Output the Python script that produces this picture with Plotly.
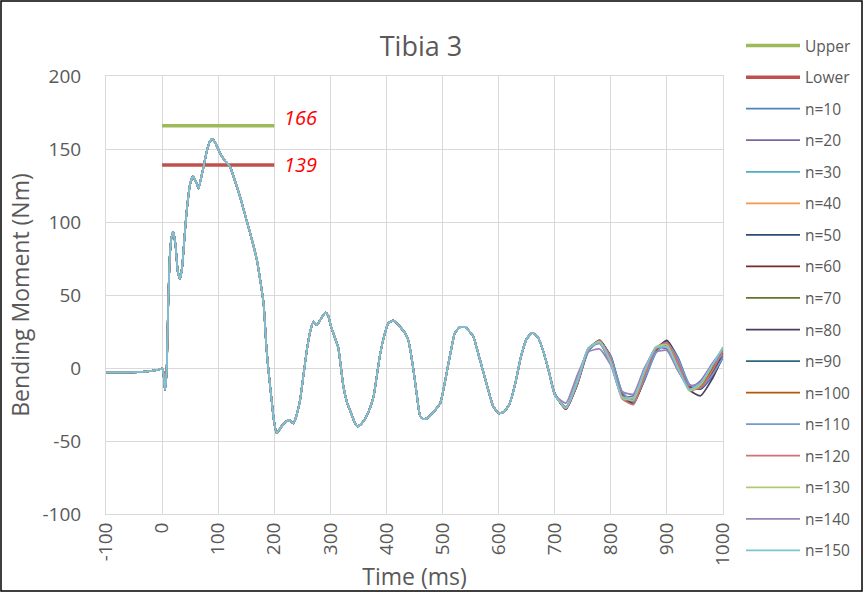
import plotly.graph_objects as go

# ---------------- data ----------------
# time axis (ms) shared by every n-series
time_shared = [-100, -60, -30, -10, 0, 2, 5, 8, 11, 14, 17, 20, 24, 28, 32, 36, 40, 44, 50, 55,
               60, 65, 70, 74, 80, 85, 90, 95, 100, 105, 112, 121, 130, 140, 150, 160, 169, 175,
               181, 186, 190, 195, 199, 204, 208, 213, 220, 227, 234, 240, 246, 252, 258, 264,
               270, 276, 282, 291, 296, 300, 306, 314, 318, 323, 330, 335, 342, 348, 353, 359,
               368, 377, 383, 389, 396, 403, 412, 420, 427, 433, 439, 444, 448, 454, 460, 466,
               472, 484, 496, 502, 508, 515, 522, 531, 540, 548, 555, 560, 570, 580, 590, 600,
               610, 620, 630, 640, 650, 660, 670, 680, 690]
# bending moment (Nm) where all n-series overlap
moment_shared = [-3, -3, -2.5, -1.5, -0.5, -2, -15, -3, 45, 78, 90, 93, 84, 66, 61, 70, 90, 108, 126, 131,
                 128, 123, 131, 138, 149, 155, 157, 154, 150, 146, 142, 138, 128, 116, 102, 88, 74, 60,
                 44, 14, -3, -21, -35, -44.5, -43, -40, -37, -35.6, -38, -32, -22, -5, 12, 25,
                 31.7, 29.5, 33, 38, 36, 30, 23, 14, 3, -12, -24, -29, -36, -40, -39, -36.5,
                 -30, -19.6, -5, 10, 22, 30.6, 32.4, 30, 27, 24, 19, 9, -1, -18, -33, -35,
                 -34.5, -30, -24, -14, -2, 12, 24, 28, 28, 25, 21.5, 15, 1, -13, -26, -31,
                 -30, -24, -10, 8, 20, 24, 21, 11, -3]

# later part where the series separate
time_late = [700, 720, 740, 760, 780, 800, 820, 840, 860, 880, 900, 920, 940, 960, 980, 1000]

n10 = [-17.4, -27.9, -11.7, 11.5, 18.4, 8.3, -16.4, -23.8, -8.5, 10.3, 17.9, 7.1, -11.4, -14.5, -6.3, 7.2]
n20 = [-18.3, -26.7, -8.4, 13.5, 16.8, 2.4, -19.5, -19.1, -0.6, 13.7, 13.1, -1.6, -14.0, -8.8, 2.5, 13.3]
n30 = [-17.7, -27.7, -10.9, 12.3, 18.2, 6.7, -17.7, -22.9, -6.3, 11.6, 17.0, 4.6, -12.7, -13.2, -3.6, 9.6]
n40 = [-17.8, -27.4, -10.3, 12.5, 17.9, 5.7, -19.5, -24.5, -5.0, 11.9, 15.9, 3.2, -12.8, -12.1, -2.2, 10.3]
n50 = [-17.6, -28.0, -11.4, 12.0, 18.6, 7.6, -17.4, -23.9, -7.6, 11.3, 18.0, 6.0, -12.5, -14.4, -5.2, 8.8]
n60 = [-17.8, -27.9, -10.8, 12.6, 18.5, 6.4, -18.4, -23.2, -5.8, 12.3, 17.3, 4.1, -13.6, -13.5, -3.1, 10.7]
n70 = [-18.1, -27.8, -10.2, 13.3, 18.6, 5.2, -19.8, -23.1, -4.2, 13.8, 17.1, 2.2, -15.1, -13.1, -1.1, 13.2]
n80 = [-17.8, -28.2, -11.4, 12.5, 19.1, 7.5, -18.5, -24.9, -7.4, 12.3, 19.0, 6.0, -15.0, -19.0, -8.0, 8.0]
n90 = [-18.2, -27.4, -9.6, 13.4, 17.9, 4.2, -19.7, -21.6, -2.9, 13.7, 15.5, 0.7, -14.7, -11.4, 0.3, 13.2]
n100 = [-17.9, -27.5, -10.2, 12.8, 18.1, 5.4, -18.7, -22.2, -4.6, 12.7, 16.2, 2.6, -13.7, -12.3, -1.7, 11.4]
n110 = [-17.4, -27.6, -11.4, 11.6, 18.1, 7.7, -16.3, -23.0, -7.7, 10.3, 17.1, 6.2, -11.2, -13.5, -5.3, 7.4]
n120 = [-17.9, -27.9, -10.6, 12.9, 18.7, 6.0, -21.0, -25.0, -5.4, 13.1, 17.6, 3.5, -14.4, -13.7, -2.5, 11.9]
n130 = [-18.3, -27.5, -9.4, 13.7, 18.1, 3.8, -20.4, -21.9, -2.4, 14.5, 15.8, 0.1, -15.6, -11.6, 1.0, 14.5]
n140 = [-18.5, -24.0, -5.0, 11.0, 13.0, 2.0, -16.0, -18.0, 0.0, 11.0, 12.0, -2.0, -12.0, -10.0, 2.0, 9.0]
n150 = [-18.3, -27.1, -8.9, 13.4, 17.3, 3.3, -19.7, -20.4, -1.7, 13.8, 14.4, -0.5, -14.7, -10.3, 1.5, 13.7]

series_names = ["n=10", "n=20", "n=30", "n=40", "n=50", "n=60", "n=70", "n=80",
                "n=90", "n=100", "n=110", "n=120", "n=130", "n=140", "n=150"]
series_late = [n10, n20, n30, n40, n50, n60, n70, n80, n90, n100, n110, n120, n130, n140, n150]
series_colors = ["#4F81BD", "#8064A2", "#4BACC6", "#F79646", "#2C4D75", "#772C2A", "#5F7530",
                 "#4D3B62", "#276A7C", "#B65708", "#729ACA", "#CD7371", "#AFC97A", "#9983B5",
                 "#7CC3D6"]

limit_time = [0, 200]
upper_value = 166
lower_value = 139

x_ticks = [-100, 0, 100, 200, 300, 400, 500, 600, 700, 800, 900, 1000]
x_labels = ["-100", "0", "100", "200", "300", "400", "500", "600", "700", "800", "900", "1000"]
y_ticks = [-100, -50, 0, 50, 100, 150, 200]
y_labels = ["-100", "-50", "0", "50", "100", "150", "200"]

# ---------------- figure ----------------
W, H = 863, 592
ML, MR, MT, MB = 106, 140, 76, 78
PW, PH = W - ML - MR, H - MT - MB

fig = go.Figure()
fig.add_trace(go.Scatter(x=limit_time, y=[upper_value, upper_value], mode="lines", name="Upper",
                         line=dict(color="#9BBB59", width=3.5), legendgroup="g_up"))
fig.add_trace(go.Scatter(x=limit_time, y=[lower_value, lower_value], mode="lines", name="Lower",
                         line=dict(color="#C0504D", width=3.5), legendgroup="g_low"))

time_all = time_shared + time_late
for name, late, col in zip(series_names, series_late, series_colors):
    fig.add_trace(go.Scatter(x=time_all, y=moment_shared + late, mode="lines", name=name,
                             line=dict(color=col, width=1.75, shape="spline", smoothing=0.5),
                             legendgroup="g_" + name))

grid = "#D9D9D9"
txt = "#595959"
font = "Open Sans"

fig.update_layout(
    width=W, height=H,
    margin=dict(l=ML, r=MR, t=MT, b=MB, autoexpand=False),
    paper_bgcolor="white", plot_bgcolor="white",
    font=dict(family=font, color=txt),
    title=dict(text="Tibia 3", x=421 / W, xanchor="center",
               y=1 - 47 / H, yanchor="middle", font=dict(size=27, color=txt)),
    showlegend=True,
    legend=dict(x=1 + (741 - 723) / PW, xanchor="left", y=1 + (MT - 29) / PH, yanchor="top",
                font=dict(size=15.5, color=txt), tracegroupgap=8.4, bgcolor="rgba(0,0,0,0)",
                itemwidth=54, maxheight=585),
)
fig.update_xaxes(range=[-100, 1000], tickvals=x_ticks, ticktext=x_labels, tickangle=-90,
                 showgrid=True, gridcolor=grid, gridwidth=1, zeroline=False,
                 showline=True, linecolor=grid, mirror=True, automargin=False,
                 tickfont=dict(size=19, color=txt),
                 title=dict(text="Time (ms)", font=dict(size=23, color=txt), standoff=9))
fig.update_yaxes(range=[-100, 200], tickvals=y_ticks, ticktext=y_labels,
                 showgrid=True, gridcolor=grid, gridwidth=1, zeroline=False,
                 showline=True, linecolor=grid, mirror=True, automargin=False,
                 tickfont=dict(size=19, color=txt), ticklabelstandoff=20,
                 title=dict(text="Bending Moment (Nm)", font=dict(size=23, color=txt), standoff=6))

fig.add_annotation(x=limit_time[1], y=upper_value, text="<i>166</i>", showarrow=False,
                   xanchor="left", yanchor="middle", xshift=8, yshift=8,
                   font=dict(size=20, color="#FF0000", family=font))
fig.add_annotation(x=limit_time[1], y=lower_value, text="<i>139</i>", showarrow=False,
                   xanchor="left", yanchor="middle", xshift=8, yshift=1,
                   font=dict(size=20, color="#FF0000", family=font))

fig.add_shape(type="rect", xref="paper", yref="paper",
              x0=(-ML + 1) / PW, x1=1 + (MR - 1) / PW, y0=-(MB - 1) / PH, y1=1 + (MT - 1) / PH,
              line=dict(color="black", width=1.5), layer="above")

fig.write_html("out.html", config={"displayModeBar": False},
               post_script="document.body.style.margin='0px';")
